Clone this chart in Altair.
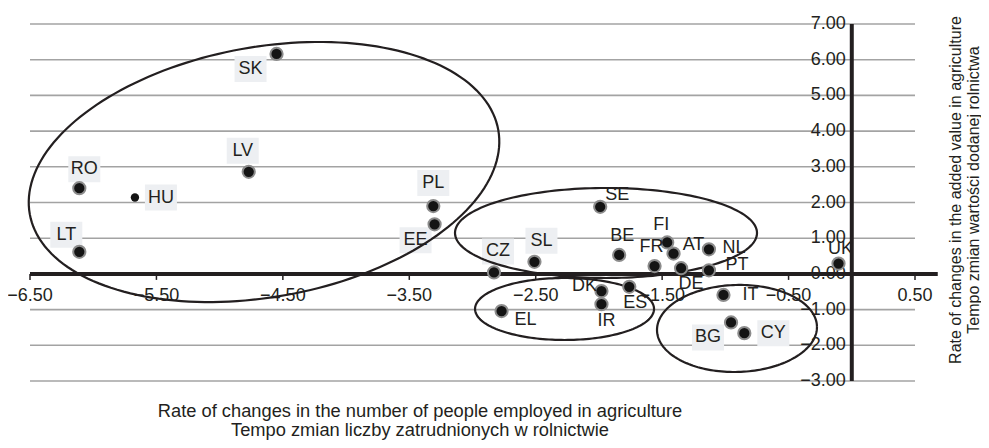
import altair as alt
import numpy as np
import pandas as pd

# ---------------- data ----------------
COUNTRIES = ["SK", "LV", "RO", "HU", "LT", "PL", "EE", "CZ", "SL", "SE", "BE", "DK", "IR",
             "ES", "EL", "FR", "FI", "AT", "DE", "NL", "PT", "UK", "IT", "BG", "CY"]
EMPLOYMENT_RATE = [-4.55, -4.77, -6.11, -5.67, -6.11, -3.31, -3.30, -2.83, -2.51, -1.99, -1.84, -1.98, -1.98,
                   -1.76, -2.77, -1.56, -1.46, -1.41, -1.35, -1.13, -1.13, -0.105, -1.015, -0.955, -0.85]
VALUE_ADDED_RATE = [6.16, 2.86, 2.40, 2.14, 0.62, 1.90, 1.39, 0.04, 0.34, 1.88, 0.53, -0.48, -0.85,
                    -0.36, -1.04, 0.22, 0.88, 0.57, 0.16, 0.69, 0.10, 0.29, -0.59, -1.36, -1.66]

X_TICKS = [-6.5, -5.5, -4.5, -3.5, -2.5, -1.5, -0.5, 0.5]
Y_TICKS = [-3, -2, -1, 0, 1, 2, 3, 4, 5, 6, 7]

X_TITLE = ["Rate of changes in the number of people employed in agriculture",
           "Tempo zmian liczby zatrudnionych w rolnictwie"]
Y_TITLE = ["Rate of changes in the added value in agriculture",
           "Tempo zmian wartości dodanej rolnictwa"]

# ---------------- style ----------------
W, H = 885, 357
XMIN, XMAX = -6.5, 0.5
YMIN, YMAX = -3, 7
X_AXIS_END = 0.68
PXX = W / (XMAX - XMIN)
PXY = H / (YMAX - YMIN)
FONT = "Liberation Sans"
INK = "#231f20"
GRID = "#a3a3a3"
TICK_LEN = 6

# label offsets in pixels (dx right, dy down)
LABEL_OFFSETS = {
    "SK": (-26, 15), "RO": (5, -19), "HU": (26, 0), "LT": (-13, -17), "LV": (-6, -21),
    "PL": (0, -23), "EE": (-19, 16), "CZ": (4, -21), "SL": (7, -21), "SE": (17, -12),
    "BE": (3, -19), "DK": (-17, -5), "IR": (5, 17), "ES": (6, 16), "EL": (24, 9),
    "FR": (-3, -19), "FI": (-6, -17), "AT": (20, -9), "NL": (25, -1), "PT": (28, -5),
    "DE": (10, 16), "UK": (2, -15), "IT": (27, 0), "BG": (-23, 15), "CY": (29, 0),
}
BOXED = ["SK", "RO", "HU", "LT", "LV", "PL", "EE", "CZ", "SL", "BG", "CY"]
SMALL_MARKERS = ["HU"]
BOX_W, BOX_H = 32, 26

# ellipses: centre (data units), semi-axes (px), tilt (deg)
ELL_CX = [-4.649, -1.944, -2.272, -0.908]
ELL_CY = [2.854, 1.146, -0.983, -1.529]
ELL_A = [238, 151, 89.5, 80]
ELL_B = [125, 45, 31, 43.5]
ELL_TILT = [10.2, 0, 0, 1.5]

xs = alt.Scale(domain=[XMIN, XMAX], nice=False, zero=False)
ys = alt.Scale(domain=[YMIN, YMAX], nice=False, zero=False)


def X(f):
    return alt.X(f, scale=xs, axis=None)


def Y(f):
    return alt.Y(f, scale=ys, axis=None)


# ---------------- tables ----------------
pts = pd.DataFrame({"c": COUNTRIES, "x": EMPLOYMENT_RATE, "y": VALUE_ADDED_RATE})
pts["sz"] = [70 if c in SMALL_MARKERS else 150 for c in COUNTRIES]
pts["sw"] = [0 if c in SMALL_MARKERS else 2 for c in COUNTRIES]
pts["lx"] = [x + LABEL_OFFSETS[c][0] / PXX for c, x in zip(COUNTRIES, EMPLOYMENT_RATE)]
pts["ly"] = [y - LABEL_OFFSETS[c][1] / PXY for c, y in zip(COUNTRIES, VALUE_ADDED_RATE)]

boxes = pts[pts["c"].isin(BOXED)].copy()
boxes["bx0"] = boxes["lx"] - BOX_W / 2 / PXX
boxes["bx1"] = boxes["lx"] + BOX_W / 2 / PXX
boxes["by0"] = boxes["ly"] - BOX_H / 2 / PXY
boxes["by1"] = boxes["ly"] + BOX_H / 2 / PXY

grid = pd.DataFrame({"y": Y_TICKS, "x0": XMIN, "x1": XMAX})
xt = pd.DataFrame({"x": X_TICKS, "y0": 0.0, "y1": -TICK_LEN / PXY})
yt = pd.DataFrame({"x": 0.0, "y": Y_TICKS})

rows = []
t = np.linspace(0, 2 * np.pi, 181)
for i in range(len(ELL_CX)):
    th = np.radians(ELL_TILT[i])
    dx = ELL_A[i] * np.cos(t) * np.cos(th) - ELL_B[i] * np.sin(t) * np.sin(th)
    dy = ELL_A[i] * np.cos(t) * np.sin(th) + ELL_B[i] * np.sin(t) * np.cos(th)
    for k in range(len(t)):
        rows.append({"g": i, "o": k, "ex": ELL_CX[i] + dx[k] / PXX, "ey": ELL_CY[i] + dy[k] / PXY})
ell = pd.DataFrame(rows)

# ---------------- layers ----------------
grid_layer = alt.Chart(grid).mark_rule(color=GRID, strokeWidth=1.6).encode(
    x=X("x0:Q"), x2="x1:Q", y=Y("y:Q"))

box_layer = alt.Chart(boxes).mark_rect(color="#edeff2").encode(
    x=X("bx0:Q"), x2="bx1:Q", y=Y("by0:Q"), y2="by1:Q")

xtick_layer = alt.Chart(xt).mark_rule(color=INK, strokeWidth=1.5).encode(
    x=X("x:Q"), y=Y("y0:Q"), y2="y1:Q")

xlab_layer = alt.Chart(xt).mark_text(fontSize=18, font=FONT, color=INK, align="center",
                                     baseline="middle", dy=22).encode(
    x=X("x:Q"), y=Y("y0:Q"), text=alt.Text("x:Q", format=".2f"))

ylab_layer = alt.Chart(yt).mark_text(fontSize=18, font=FONT, color=INK, align="right",
                                     baseline="middle", dx=-6).encode(
    x=X("x:Q"), y=Y("y:Q"), text=alt.Text("y:Q", format=".2f"))

hline = alt.Chart(pd.DataFrame({"x0": [XMIN], "x1": [X_AXIS_END], "y": [0]})).mark_rule(
    color=INK, strokeWidth=4, clip=False).encode(x=X("x0:Q"), x2="x1:Q", y=Y("y:Q"))
vline = alt.Chart(pd.DataFrame({"x": [0], "y0": [YMIN], "y1": [YMAX]})).mark_rule(
    color=INK, strokeWidth=4).encode(x=X("x:Q"), y=Y("y0:Q"), y2="y1:Q")

ell_layer = alt.Chart(ell).mark_line(color=INK, strokeWidth=2.2, clip=False).encode(
    x=X("ex:Q"), y=Y("ey:Q"), detail="g:N", order="o:Q")

pt_layer = alt.Chart(pts).mark_point(shape="circle", filled=True, fill="#141414", stroke="#8c8c8c",
                                     opacity=1).encode(
    x=X("x:Q"), y=Y("y:Q"),
    size=alt.Size("sz:Q", scale=None, legend=None),
    strokeWidth=alt.StrokeWidth("sw:Q", scale=None, legend=None))

lab_layer = alt.Chart(pts).mark_text(fontSize=18, font=FONT, color=INK, align="center",
                                     baseline="middle").encode(
    x=X("lx:Q"), y=Y("ly:Q"), text="c:N")


def title_text(txt, px, py, size, angle=0):
    return alt.Chart(pd.DataFrame({"t": [txt]})).mark_text(
        fontSize=size, font=FONT, color=INK, align="center", baseline="middle", angle=angle).encode(
        text="t:N", x=alt.value(px), y=alt.value(py))


titles = [
    title_text(X_TITLE[0], 390, 388, 18.3),
    title_text(X_TITLE[1], 390, 407, 18.3),
    title_text(Y_TITLE[0], 926, 166, 16, 270),
    title_text(Y_TITLE[1], 944, 166, 16, 270),
]

chart = alt.layer(grid_layer, box_layer, ylab_layer, xtick_layer, xlab_layer, hline, vline,
                  ell_layer, pt_layer, lab_layer, *titles).properties(
    width=W, height=H, autosize="none",
    padding={"left": 22, "top": 16, "right": 66, "bottom": 59},
).configure_view(stroke=None)

chart.save("out.html", embed_options={"renderer": "svg", "actions": False})
